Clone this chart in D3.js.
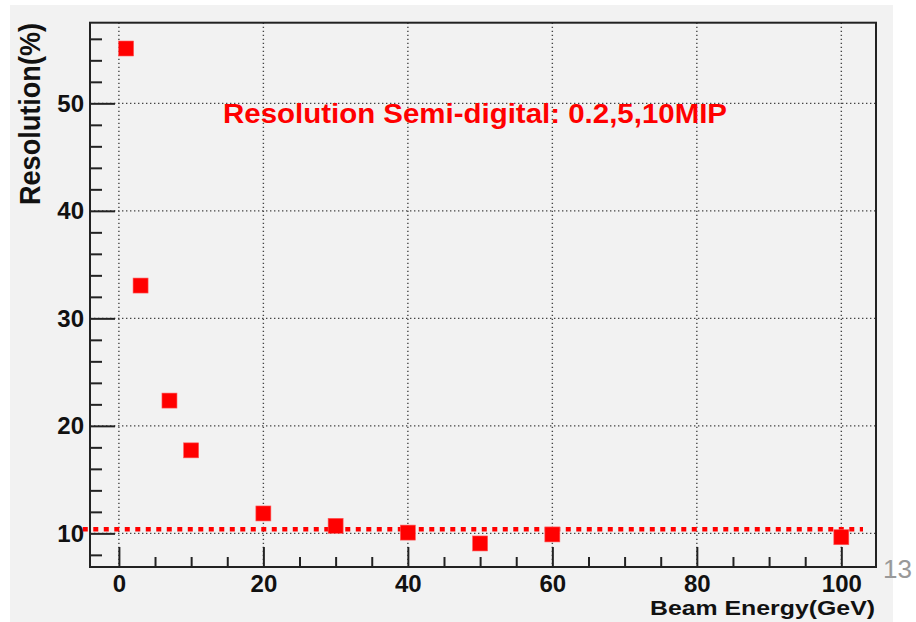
<!DOCTYPE html>
<html>
<head>
<meta charset="utf-8">
<script src="https://cdn.jsdelivr.net/npm/d3@7"></script>
<style>
  body { margin: 0; background: #fff; }
  text { font-family: "Liberation Sans", Arial, sans-serif; }
</style>
</head>
<body>
<div id="chart"></div>
<script>
// beam energy (GeV) and measured resolution (%)
const energy = [1, 3, 7, 10, 20, 30, 40, 50, 60, 100];
const resolution = [55.1, 33.05, 22.35, 17.72, 11.85, 10.7, 10.07, 9.06, 9.9, 9.64];

const xMajor = [0, 20, 40, 60, 80, 100];
const yMajor = [10, 20, 30, 40, 50];
const fitLevel = 10.37;
const fitRange = [-5, 103];

const title = "Resolution Semi-digital: 0.2,5,10MIP";
const xTitle = "Beam Energy(GeV)";
const yTitle = "Resolution(%)";
const pageNo = "13";

const width = 916, height = 622;
const frame = {left: 90, top: 22.7, right: 876, bottom: 567};

const svg = d3.select("#chart").append("svg")
    .attr("width", width)
    .attr("height", height);

// slide background
svg.append("rect")
    .attr("x", 10).attr("y", 5)
    .attr("width", 883).attr("height", 617)
    .attr("fill", "#f2f2f2");

const x = d3.scaleLinear().domain([-4, 104.8]).range([frame.left, frame.right]);
const y = d3.scaleLinear().domain([6.87, 57.5]).range([frame.bottom, frame.top]);

const xMinor = d3.range(0, 105, 5).filter(v => !xMajor.includes(v));
const yMinor = d3.range(8, 58, 2).filter(v => !yMajor.includes(v));

// grid
const grid = svg.append("g")
    .attr("stroke", "#444")
    .attr("stroke-width", 1.4)
    .attr("stroke-dasharray", "1.4,2.6");

grid.selectAll(".gx")
    .data(xMajor)
    .enter()
    .append("line")
    .attr("x1", d => x(d)).attr("x2", d => x(d))
    .attr("y1", frame.top).attr("y2", frame.bottom);

grid.selectAll(".gy")
    .data(yMajor)
    .enter()
    .append("line")
    .attr("y1", d => y(d)).attr("y2", d => y(d))
    .attr("x1", frame.left).attr("x2", frame.right);

// axes, ticks drawn inward like ROOT
const xAxis = d3.axisBottom(x).tickValues(xMajor).tickSizeInner(-20).tickSizeOuter(0).tickPadding(8);
const xAxisMinor = d3.axisBottom(x).tickValues(xMinor).tickSizeInner(-10).tickSizeOuter(0).tickFormat("");
const yAxis = d3.axisLeft(y).tickValues(yMajor).tickSizeInner(-25).tickSizeOuter(0).tickPadding(6);
const yAxisMinor = d3.axisLeft(y).tickValues(yMinor).tickSizeInner(-12).tickSizeOuter(0).tickFormat("");

function styleAxis(g) {
    g.select(".domain").remove();
    g.selectAll("line").attr("stroke", "#222").attr("stroke-width", 2);
    g.selectAll("text")
        .attr("fill", "#111")
        .style("font-size", "24px")
        .style("font-weight", "bold");
}

svg.append("g").attr("transform", `translate(0, ${frame.bottom})`).call(xAxis).call(styleAxis);
svg.append("g").attr("transform", `translate(0, ${frame.bottom})`).call(xAxisMinor).call(styleAxis);
svg.append("g").attr("transform", `translate(${frame.left}, 0)`).call(yAxis).call(styleAxis);
svg.append("g").attr("transform", `translate(${frame.left}, 0)`).call(yAxisMinor).call(styleAxis);

// frame
svg.append("rect")
    .attr("x", frame.left).attr("y", frame.top)
    .attr("width", frame.right - frame.left)
    .attr("height", frame.bottom - frame.top)
    .attr("fill", "none")
    .attr("stroke", "#222")
    .attr("stroke-width", 2);

// dotted red reference level
svg.append("line")
    .attr("x1", x(fitRange[0])).attr("x2", x(fitRange[1]))
    .attr("y1", y(fitLevel)).attr("y2", y(fitLevel))
    .attr("stroke", "#ff0000")
    .attr("stroke-width", 4.5)
    .attr("stroke-dasharray", "5,5.5");

// markers
const pts = energy.map((e, i) => ({e: e, r: resolution[i]}));
const ms = 15;
svg.selectAll(".pt")
    .data(pts)
    .enter()
    .append("rect")
    .attr("x", d => x(d.e) - ms / 2)
    .attr("y", d => y(d.r) - ms / 2)
    .attr("width", ms).attr("height", ms)
    .attr("fill", "#ff0000")
    .attr("stroke", "#ff5a5a")
    .attr("stroke-width", 0.6);

// titles
svg.append("text")
    .attr("x", 223).attr("y", 123)
    .attr("textLength", 504)
    .attr("lengthAdjust", "spacingAndGlyphs")
    .attr("fill", "#ff0000")
    .style("font-size", "27px")
    .style("font-weight", "bold")
    .text(title);

svg.append("text")
    .attr("x", 650).attr("y", 615)
    .attr("textLength", 225)
    .attr("lengthAdjust", "spacingAndGlyphs")
    .attr("fill", "#111")
    .style("font-size", "21px")
    .style("font-weight", "bold")
    .text(xTitle);

svg.append("text")
    .attr("transform", "translate(39.5, 205) rotate(-90)")
    .attr("textLength", 182)
    .attr("lengthAdjust", "spacingAndGlyphs")
    .attr("fill", "#111")
    .style("font-size", "30px")
    .style("font-weight", "bold")
    .text(yTitle);

// slide page number
svg.append("text")
    .attr("x", 883).attr("y", 578)
    .attr("fill", "#999")
    .style("font-size", "26px")
    .text(pageNo);
</script>
</body>
</html>
